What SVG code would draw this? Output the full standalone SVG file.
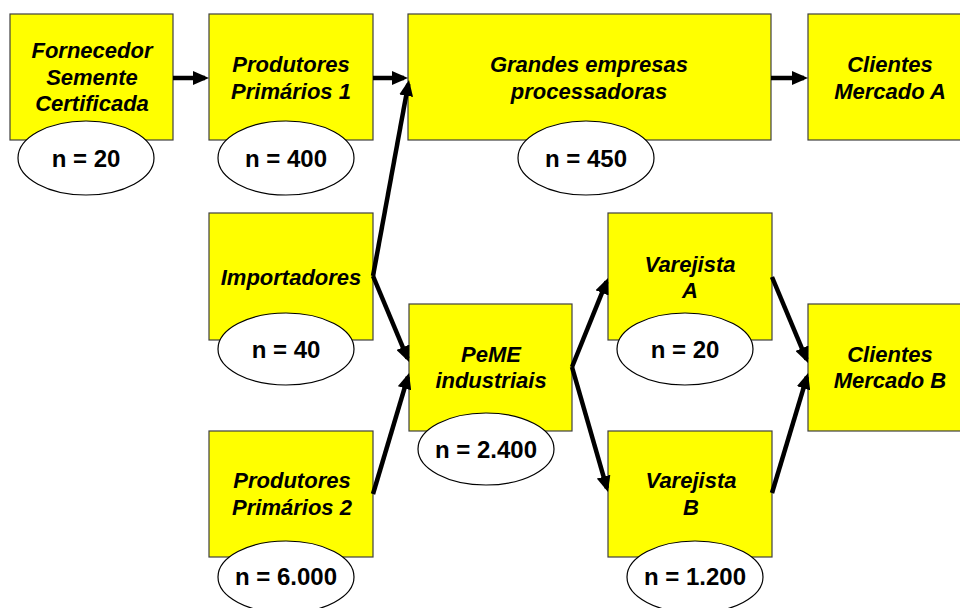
<svg xmlns="http://www.w3.org/2000/svg" width="960" height="608" viewBox="0 0 960 608">
<style>
.box{fill:#ffff00;stroke:#404040;stroke-width:1.2}
.ell{fill:#ffffff;stroke:#000000;stroke-width:1.2}
.lbl{font-family:"Liberation Sans",Arial,sans-serif;font-weight:bold;font-style:italic;font-size:22px;fill:#000;text-anchor:middle}
.n{font-family:"Liberation Sans",Arial,sans-serif;font-weight:bold;font-size:24px;fill:#000;text-anchor:middle}
.conn line{stroke:#000;stroke-width:4.5;marker-end:url(#ah)}
</style>
<defs>
<marker id="ah" markerUnits="userSpaceOnUse" markerWidth="16" markerHeight="14" refX="12" refY="7" orient="auto">
<path d="M0,0 L16,7 L0,14 z" fill="#000"/>
</marker>
</defs>
<rect width="960" height="608" fill="#ffffff"/>
<g id="fornecedor">
<rect class="box" x="10" y="14" width="163" height="126"/>
<text class="lbl" x="92" y="58">Fornecedor</text>
<text class="lbl" x="92" y="85">Semente</text>
<text class="lbl" x="92" y="111">Certificada</text>
<ellipse class="ell" cx="86" cy="158" rx="68" ry="37"/>
<text class="n" x="86" y="167">n = 20</text>
</g>
<g id="produtores1">
<rect class="box" x="209" y="14" width="164" height="126"/>
<text class="lbl" x="291" y="72">Produtores</text>
<text class="lbl" x="291" y="99">Primários 1</text>
<ellipse class="ell" cx="286" cy="158" rx="68" ry="37"/>
<text class="n" x="286" y="167">n = 400</text>
</g>
<g id="grandes">
<rect class="box" x="408" y="14" width="363" height="126"/>
<text class="lbl" x="589" y="72">Grandes empresas</text>
<text class="lbl" x="589" y="99">processadoras</text>
<ellipse class="ell" cx="586" cy="158" rx="68" ry="37"/>
<text class="n" x="586" y="167">n = 450</text>
</g>
<g id="clientesA">
<rect class="box" x="808" y="14" width="160" height="126"/>
<text class="lbl" x="890" y="72">Clientes</text>
<text class="lbl" x="890" y="99">Mercado A</text>
</g>
<g id="importadores">
<rect class="box" x="209" y="213" width="164" height="127"/>
<text class="lbl" x="291" y="285">Importadores</text>
<ellipse class="ell" cx="286" cy="349" rx="68" ry="36"/>
<text class="n" x="286" y="358">n = 40</text>
</g>
<g id="peme">
<rect class="box" x="409" y="304" width="163" height="127"/>
<text class="lbl" x="491" y="362">PeME</text>
<text class="lbl" x="491" y="388">industriais</text>
<ellipse class="ell" cx="486" cy="449" rx="68" ry="36"/>
<text class="n" x="486" y="458">n = 2.400</text>
</g>
<g id="varejistaA">
<rect class="box" x="608" y="213" width="164" height="127"/>
<text class="lbl" x="690" y="272">Varejista</text>
<text class="lbl" x="690" y="298">A</text>
<ellipse class="ell" cx="685" cy="349" rx="68" ry="36"/>
<text class="n" x="685" y="358">n = 20</text>
</g>
<g id="clientesB">
<rect class="box" x="808" y="304" width="160" height="127"/>
<text class="lbl" x="890" y="362">Clientes</text>
<text class="lbl" x="890" y="388">Mercado B</text>
</g>
<g id="produtores2">
<rect class="box" x="209" y="431" width="164" height="126"/>
<text class="lbl" x="292" y="488">Produtores</text>
<text class="lbl" x="292" y="515">Primários 2</text>
<ellipse class="ell" cx="286" cy="577" rx="68" ry="36"/>
<text class="n" x="286" y="585">n = 6.000</text>
</g>
<g id="varejistaB">
<rect class="box" x="608" y="431" width="164" height="126"/>
<text class="lbl" x="691" y="488">Varejista</text>
<text class="lbl" x="691" y="515">B</text>
<ellipse class="ell" cx="695" cy="577" rx="68" ry="36"/>
<text class="n" x="695" y="585">n = 1.200</text>
</g>
<g id="connectors" class="conn">
<line x1="173" y1="78" x2="205" y2="78"/>
<line x1="373" y1="78" x2="404" y2="78"/>
<line x1="771" y1="78" x2="804" y2="78"/>
<line x1="373" y1="276" x2="408.3" y2="83.9"/>
<line x1="373" y1="276" x2="407.5" y2="358.3"/>
<line x1="373" y1="494" x2="407.9" y2="376.8"/>
<line x1="572" y1="367" x2="606.5" y2="281.7"/>
<line x1="572" y1="367" x2="606.9" y2="488.2"/>
<line x1="772" y1="277" x2="806.5" y2="359.3"/>
<line x1="772" y1="493" x2="806.9" y2="376.8"/>
</g>
</svg>
